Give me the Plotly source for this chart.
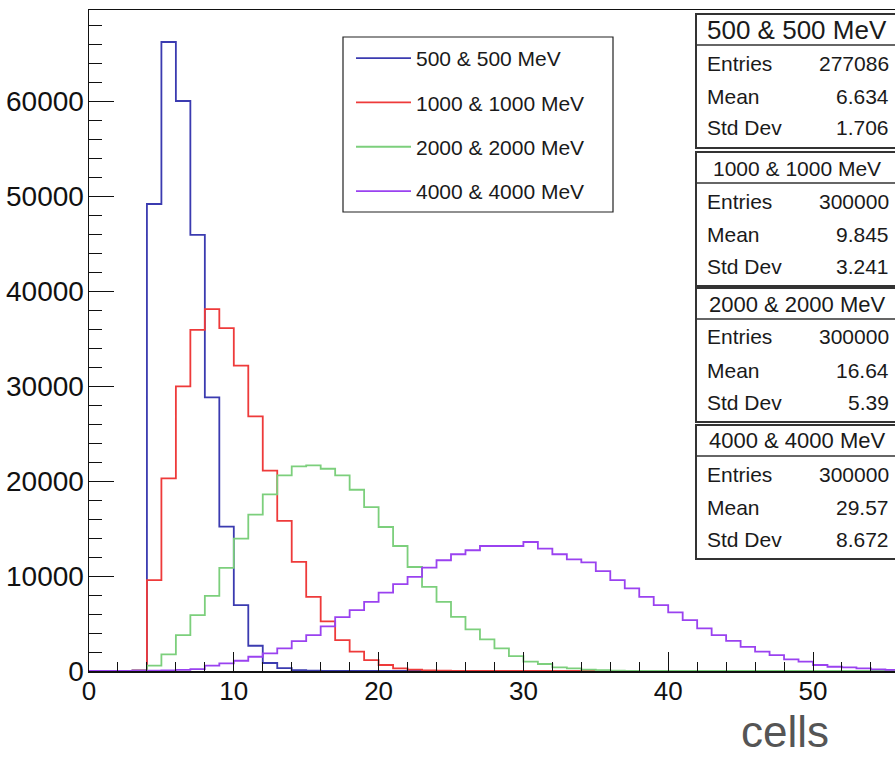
import plotly.graph_objects as go

# ---------------- data ----------------
bin_edges = list(range(0, 61))  # 60 bins of width 1 from 0 to 60

names = ["500 & 500 MeV", "1000 & 1000 MeV", "2000 & 2000 MeV", "4000 & 4000 MeV"]

counts_500 = [0, 0, 0, 60, 49160, 66210, 60000, 45900, 28800, 15200,
              6930, 2660, 840, 300, 100, 40, 0, 0, 0, 0,
              0, 0, 0, 0, 0, 0, 0, 0, 0, 0,
              0, 0, 0, 0, 0, 0, 0, 0, 0, 0,
              0, 0, 0, 0, 0, 0, 0, 0, 0, 0,
              0, 0, 0, 0, 0, 0, 0, 0, 0, 0]

counts_1000 = [0, 0, 0, 30, 9560, 20270, 29970, 35900, 38100, 36100,
               32140, 26800, 21100, 15800, 11480, 7800, 5230, 3260, 2030, 1155,
               630, 280, 150, 70, 30, 0, 0, 0, 0, 0,
               0, 0, 0, 0, 0, 0, 0, 0, 0, 0,
               0, 0, 0, 0, 0, 0, 0, 0, 0, 0,
               0, 0, 0, 0, 0, 0, 0, 0, 0, 0]

counts_2000 = [0, 0, 0, 20, 560, 1750, 3780, 5880, 7910, 10850,
               13940, 16460, 18590, 20590, 21530, 21640, 21290, 20590, 19080, 17260,
               15160, 13160, 10950, 8860, 7280, 5700, 4380, 3330, 2380, 1575,
               980, 735, 390, 280, 150, 80, 40, 0, 0, 0,
               0, 0, 0, 0, 0, 0, 0, 0, 0, 0,
               0, 0, 0, 0, 0, 0, 0, 0, 0, 0]

counts_4000 = [0, 0, 0, 10, 30, 60, 120, 200, 560, 800,
               1080, 1500, 1860, 2380, 3150, 3780, 4700, 5670, 6410, 7280,
               8250, 9140, 9910, 10890, 11660, 12290, 12710, 13160, 13160, 13160,
               13580, 12890, 12290, 11760, 11430, 10520, 9560, 8690, 7810, 6930,
               6170, 5360, 4480, 3780, 3180, 2550, 2030, 1680, 1230, 980,
               630, 450, 390, 280, 180, 120, 80, 50, 30, 20]

stat_entries = ["277086", "300000", "300000", "300000"]
stat_means = ["6.634", "9.845", "16.64", "29.57"]
stat_stddevs = ["1.706", "3.241", "5.39", "8.672"]

y_ticks = [0, 10000, 20000, 30000, 40000, 50000, 60000]
x_ticks = [0, 10, 20, 30, 40, 50]

colors = ["#3b3bb0", "#ee3a3a", "#7ccf7c", "#9a42f0"]

# ---------------- layout geometry ----------------
W, H = 895, 757
L, T, B = 89, 10, 671          # plot-area pixel edges
R = W
FONT = "Liberation Sans, Arial, Helvetica, sans-serif"


def px(x):
    return (x - L) / (R - L)


def py(y):
    return (B - y) / (B - T)


fig = go.Figure()

all_counts = [counts_500, counts_1000, counts_2000, counts_4000]
for i, (nm, c) in enumerate(zip(names, all_counts)):
    fig.add_trace(go.Scatter(
        x=bin_edges[:len(c) + 1],
        y=list(c) + [c[-1]],
        mode="lines",
        line=dict(shape="hv", color=colors[i], width=1.8),
        name=nm,
        legendgroup=nm,
        hoverinfo="skip",
    ))

shapes = []
annotations = []

# legend frame
shapes.append(dict(type="rect", xref="paper", yref="paper",
                   x0=px(343), x1=px(613), y0=py(212), y1=py(37),
                   line=dict(color="#222", width=1.2), fillcolor="rgba(255,255,255,0)"))

# stats boxes
title_sizes = [26, 21, 22, 22]
box_tops = [14, 152, 288, 425]
for i in range(4):
    top = box_tops[i]
    bot = top + 134
    shapes.append(dict(type="rect", xref="paper", yref="paper",
                       x0=px(696), x1=px(910), y0=py(bot), y1=py(top),
                       line=dict(color="#333", width=2), fillcolor="white", layer="above"))
    shapes.append(dict(type="line", xref="paper", yref="paper",
                       x0=px(696), x1=px(910), y0=py(top + 31), y1=py(top + 31),
                       line=dict(color="#333", width=1.5), layer="above"))
    annotations.append(dict(xref="paper", yref="paper", x=px(797), y=py(top + 16),
                            text=names[i], showarrow=False, xanchor="center", yanchor="middle",
                            font=dict(family=FONT, size=title_sizes[i], color="#1a1a1a")))
    rows = [("Entries", stat_entries[i]), ("Mean", stat_means[i]), ("Std Dev", stat_stddevs[i])]
    for j, (lab, val) in enumerate(rows):
        yy = top + [49, 82, 114][j]
        annotations.append(dict(xref="paper", yref="paper", x=px(705), y=py(yy),
                                text=lab, showarrow=False, xanchor="left", yanchor="middle",
                                font=dict(family=FONT, size=21, color="#1a1a1a")))
        annotations.append(dict(xref="paper", yref="paper", x=px(891), y=py(yy),
                                text=val, showarrow=False, xanchor="right", yanchor="middle",
                                font=dict(family=FONT, size=21, color="#1a1a1a")))

# axis title
annotations.append(dict(xref="paper", yref="paper", x=px(785), y=py(757),
                        text="cells", showarrow=False, xanchor="center", yanchor="bottom",
                        borderpad=0,
                        font=dict(family=FONT, size=44, color="#555")))

fig.update_layout(
    width=W, height=H,
    margin=dict(l=L, r=0, t=T, b=H - B, pad=0),
    paper_bgcolor="white", plot_bgcolor="white",
    showlegend=True,
    legend=dict(x=px(351), y=py(38), xanchor="left", yanchor="top",
                bgcolor="rgba(0,0,0,0)", borderwidth=0,
                font=dict(family=FONT, size=21, color="#1a1a1a"),
                itemwidth=55, tracegroupgap=14, itemclick=False, itemdoubleclick=False),
    shapes=shapes,
    annotations=annotations,
    font=dict(family=FONT, color="#111"),
)

fig.update_xaxes(
    range=[0, (R - L) / 14.48],
    tickvals=x_ticks, ticktext=[str(v) for v in x_ticks],
    ticks="inside", ticklen=19, tickwidth=1, tickcolor="#111",
    minor=dict(dtick=2, ticks="inside", ticklen=9, tickwidth=1, tickcolor="#111", showgrid=False),
    showline=True, linecolor="#111", linewidth=1.5, mirror=True,
    showgrid=False, zeroline=False,
    ticklabelstandoff=-4,
    tickfont=dict(family=FONT, size=26, color="#111"),
)
fig.update_yaxes(
    range=[0, 69580],
    tickvals=y_ticks, ticktext=[str(v) for v in y_ticks],
    ticks="inside", ticklen=25, tickwidth=1, tickcolor="#111",
    minor=dict(dtick=2000, ticks="inside", ticklen=13, tickwidth=1, tickcolor="#111", showgrid=False),
    showline=True, linecolor="#111", linewidth=1.5,
    showgrid=False, zeroline=False,
    ticklabelstandoff=-2,
    tickfont=dict(family=FONT, size=28, color="#111"),
)

fig.write_html("out.html", config={"displayModeBar": False, "staticPlot": True},
               post_script="document.body.style.margin='0px';document.body.style.overflow='hidden';")
